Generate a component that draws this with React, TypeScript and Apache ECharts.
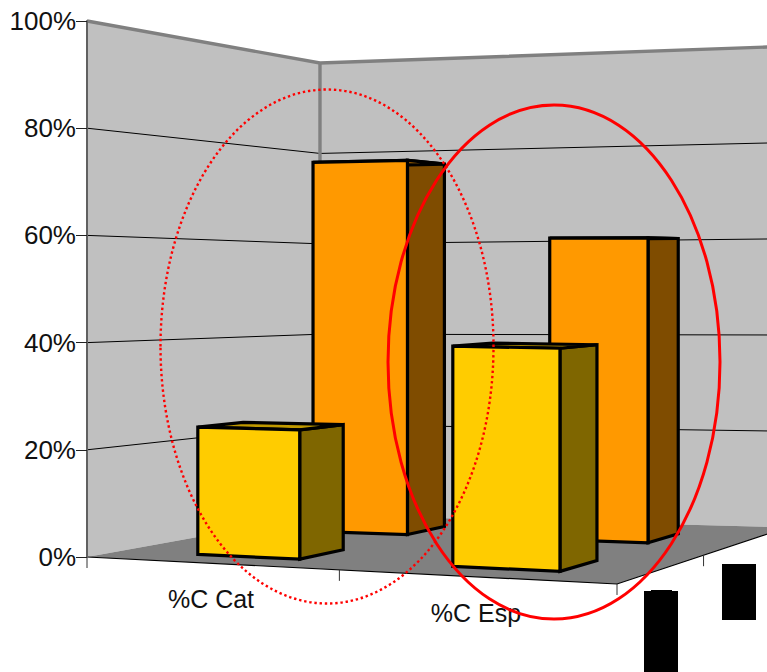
import React, { useEffect, useRef } from "react";
import * as echarts from "echarts";

const categories = ["%C Cat", "%C Esp"];
const frontValues = [24, 40];
const backValues = [76, 60];
const tickValues = [0, 20, 40, 60, 80, 100];
const tickLabels = tickValues.map((v) => v + "%");

const GRID = { left: 87, top: 21, width: 530, height: 536 };
const FONT = "Liberation Sans";

// Footprint of each bar on the floor, per category: [c0, c1, d0, d1]
const FRONT_BOX = [
  [0.355, 0.79, 0.125, 0.305],
  [1.373, 1.738, 0.125, 0.304],
];
const BACK_BOX = [
  [0.341, 0.767, 0.625, 0.813],
  [1.347, 1.71, 0.625, 0.808],
];

// Perspective of the floor: (c along categories 0..2, d in depth 0..1)
function floorPoint(c: number, d: number) {
  const u = c / 2;
  const w = -0.2099 * u + 0.2113 * d + 1;
  return [(400.5 * u + 300.6 * d + 87) / w, (-95.6 * u + 66.8 * d + 557) / w];
}
function wallHeight(c: number, d: number) {
  return GRID.height / (1 - 0.036 * c + 0.186 * d);
}
function project(c: number, d: number, frac: number) {
  const p = floorPoint(c, d);
  return [p[0], p[1] - frac * wallHeight(c, d)];
}
function fractionOf(api: any, value: number) {
  const y0 = api.coord([0, 0])[1];
  const y1 = api.coord([0, 100])[1];
  return (y0 - api.coord([0, value])[1]) / (y0 - y1);
}

function renderWalls(_params: any, api: any) {
  const children: any[] = [];
  const wallStyle = { fill: "#C0C0C0" };
  children.push({
    type: "polygon",
    shape: { points: [project(0, 0, 0), project(0, 0, 1), project(0, 1, 1), project(0, 1, 0)] },
    style: wallStyle,
  });
  children.push({
    type: "polygon",
    shape: { points: [project(0, 1, 0), project(0, 1, 1), project(2, 1, 1), project(2, 1, 0)] },
    style: wallStyle,
  });
  children.push({
    type: "polygon",
    shape: { points: [project(0, 0, 0), project(2, 0, 0), project(2, 1, 0), project(0, 1, 0)] },
    style: { fill: "#808080" },
  });
  tickValues.slice(1, -1).forEach((v) => {
    const f = fractionOf(api, v);
    children.push({
      type: "polyline",
      shape: { points: [project(0, 0, f), project(0, 1, f), project(2, 1, f)] },
      style: { stroke: "#000", lineWidth: 1, fill: null },
    });
  });
  children.push({
    type: "polyline",
    shape: { points: [project(0, 0, 1), project(0, 1, 1), project(2, 1, 1)] },
    style: { stroke: "#808080", lineWidth: 3.4, fill: null },
  });
  children.push({
    type: "polyline",
    shape: { points: [project(0, 1, 1), project(0, 1, 0)] },
    style: { stroke: "#808080", lineWidth: 3.4, fill: null },
  });
  children.push({
    type: "polyline",
    shape: { points: [project(0, 0, 0), project(2, 0, 0), project(2, 1, 0)] },
    style: { stroke: "#000", lineWidth: 1.2, fill: null },
  });
  const ticks = [floorPoint(0, 0), floorPoint(1.07, 0), floorPoint(2, 0), floorPoint(2, 0.45)];
  ticks.forEach((p) => {
    children.push({
      type: "line",
      shape: { x1: p[0], y1: p[1], x2: p[0], y2: p[1] + 11 },
      style: { stroke: "#333", lineWidth: 1 },
    });
  });
  return { type: "group", children };
}

function barRenderer(boxes: number[][], fill: string, side: string, top: string) {
  return (_params: any, api: any) => {
    const i = api.value(0);
    const f = fractionOf(api, api.value(1));
    const [a, b, d0, d1] = boxes[i];
    const style = (color: string) => ({
      fill: color,
      stroke: "#000",
      lineWidth: 3.2,
      lineJoin: "miter",
    });
    return {
      type: "group",
      children: [
        {
          type: "polygon",
          shape: { points: [project(b, d0, 0), project(b, d1, 0), project(b, d1, f), project(b, d0, f)] },
          style: style(side),
        },
        {
          type: "polygon",
          shape: { points: [project(a, d0, f), project(b, d0, f), project(b, d1, f), project(a, d1, f)] },
          style: style(top),
        },
        {
          type: "polygon",
          shape: { points: [project(a, d0, 0), project(b, d0, 0), project(b, d0, f), project(a, d0, f)] },
          style: style(fill),
        },
      ],
    };
  };
}

function renderCategoryLabel(_params: any, api: any) {
  const i = api.value(0);
  const x = api.coord([i, 0])[0] - 8.5;
  const y = 557 + 0.051 * (x - GRID.left) + 36;
  return {
    type: "text",
    x,
    y,
    style: {
      text: categories[i],
      fontFamily: FONT,
      fontSize: 25,
      fill: "#111",
      align: "center",
      verticalAlign: "middle",
    },
  };
}

export default function App() {
  const ref = useRef<HTMLDivElement>(null);
  useEffect(() => {
    const chart = echarts.init(ref.current!, null, { renderer: "svg" });
    chart.setOption({
      animation: false,
      backgroundColor: "#fff",
      grid: { left: GRID.left, top: GRID.top, width: GRID.width, height: GRID.height, containLabel: false },
      xAxis: {
        type: "category",
        data: categories,
        axisLine: { show: false },
        axisTick: { show: false },
        axisLabel: { show: false },
        splitLine: { show: false },
      },
      yAxis: {
        type: "value",
        min: 0,
        max: 100,
        interval: 20,
        z: 5,
        axisLine: { show: true, lineStyle: { color: "#606060", width: 2 } },
        axisTick: { show: true, length: 11, lineStyle: { color: "#222", width: 1 } },
        axisLabel: {
          margin: 11,
          fontFamily: FONT,
          fontSize: 26,
          color: "#111",
          formatter: (v: number) => tickLabels[tickValues.indexOf(v)],
        },
        splitLine: { show: false },
      },
      series: [
        { type: "custom", name: "walls", z: 1, silent: true, data: [[0, 0]], renderItem: renderWalls },
        {
          type: "custom",
          name: "back",
          z: 2,
          data: backValues.map((v, i) => [i, v]),
          renderItem: barRenderer(BACK_BOX, "#FF9900", "#7F4C00", "#BF7300"),
        },
        {
          type: "custom",
          name: "front",
          z: 3,
          data: frontValues.map((v, i) => [i, v]),
          renderItem: barRenderer(FRONT_BOX, "#FFCC00", "#7F6600", "#BF9900"),
        },
        {
          type: "custom",
          name: "labels",
          z: 4,
          data: categories.map((_, i) => [i, 0]),
          renderItem: renderCategoryLabel,
        },
      ],
      graphic: [
        {
          type: "ellipse",
          z: 20,
          shape: { cx: 327, cy: 346.5, rx: 166.5, ry: 257 },
          style: { fill: "none", stroke: "#FF0000", lineWidth: 2.4, lineDash: [2.4, 2.8] },
        },
        {
          type: "ellipse",
          z: 21,
          shape: { cx: 554, cy: 362, rx: 166, ry: 257 },
          style: { fill: "none", stroke: "#FF0000", lineWidth: 3 },
        },
        { type: "rect", z: 22, shape: { x: 644, y: 591, width: 34, height: 81 }, style: { fill: "#000" } },
        { type: "rect", z: 22, shape: { x: 651, y: 590, width: 21, height: 2 }, style: { fill: "#000" } },
        { type: "rect", z: 22, shape: { x: 722, y: 564, width: 34, height: 56 }, style: { fill: "#000" } },
      ],
    });
    return () => chart.dispose();
  }, []);
  return (
    <div
      ref={ref}
      style={{ position: "absolute", left: 0, top: 0, width: 767, height: 672, overflow: "hidden" }}
    />
  );
}
